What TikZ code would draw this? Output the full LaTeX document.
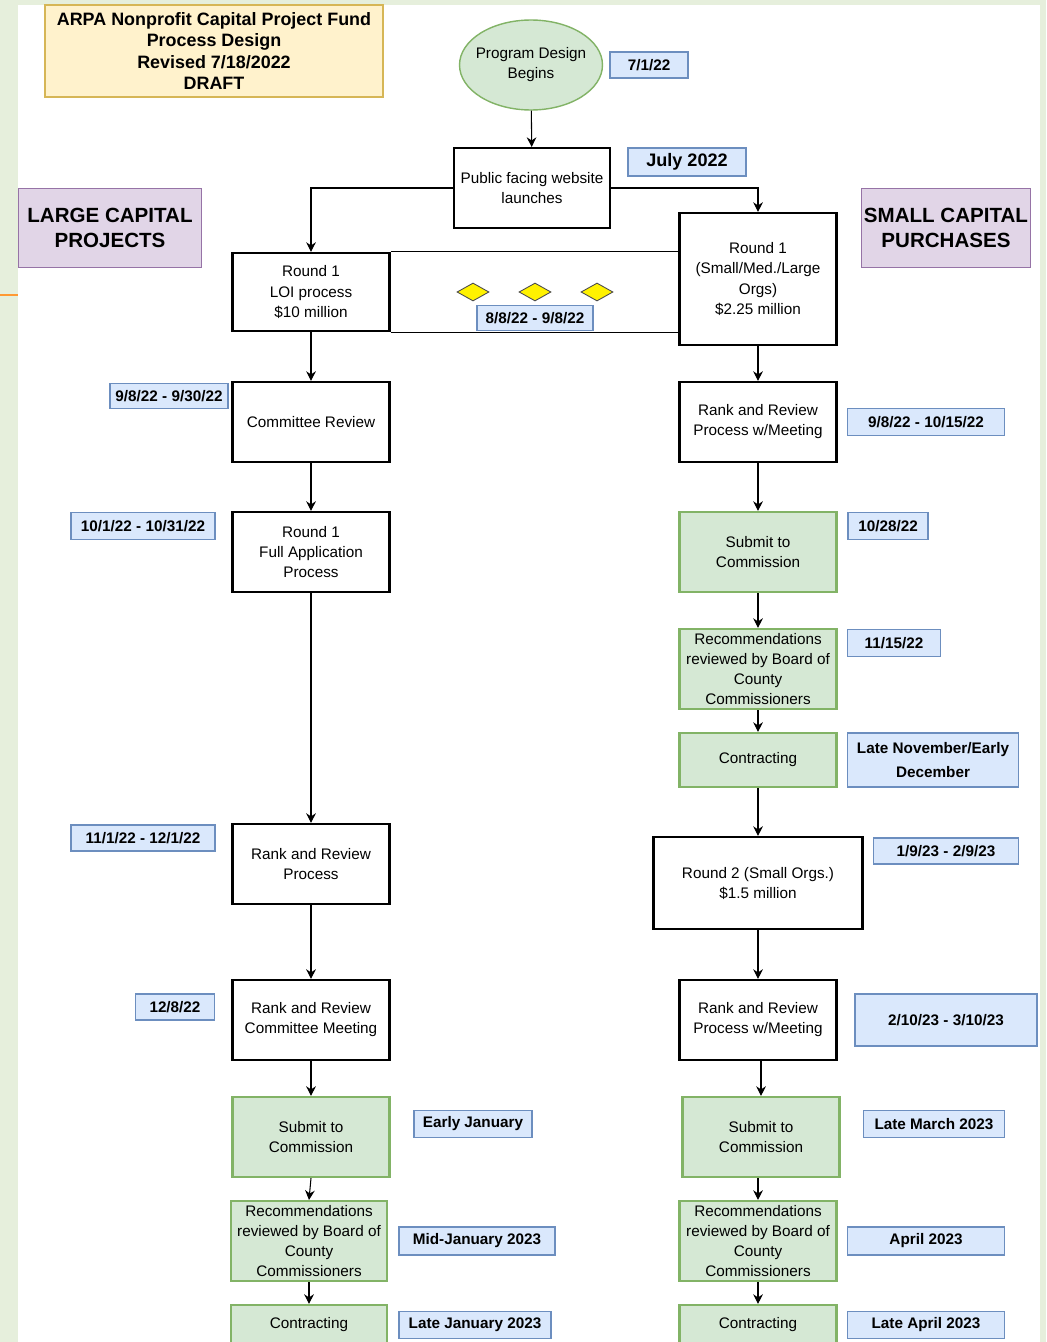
\documentclass[tikz,border=0pt]{standalone}
\usepackage{fontspec}
\setmainfont{Liberation Sans}
\usepackage{tikz}
\usetikzlibrary{arrows.meta,shapes.geometric,backgrounds}
\definecolor{pagegreen}{RGB}{230,239,220}
\definecolor{grnfill}{RGB}{213,232,212}
\definecolor{grnline}{RGB}{130,179,102}
\definecolor{blufill}{RGB}{218,232,252}
\definecolor{bluline}{RGB}{108,142,191}
\definecolor{ylwfill}{RGB}{255,242,204}
\definecolor{ylwline}{RGB}{214,182,86}
\definecolor{purfill}{RGB}{225,213,231}
\definecolor{purline}{RGB}{150,115,166}

\begin{document}
\begin{tikzpicture}[x=0.02cm,y=-0.02cm,
  box/.style={draw=black,line width=1.2pt,fill=white,align=center,inner sep=1pt,
    minimum width=3.14cm,minimum height=1.6cm,font=\fontsize{8.7}{11.4}\selectfont},
  greenbox/.style={box,draw=grnline,fill=grnfill},
  datebox/.style={draw=bluline,fill=blufill,line width=1pt,align=center,inner sep=0pt,
    minimum height=0.52cm,font=\bfseries\fontsize{8.7}{11}\selectfont},
  lanebox/.style={draw=purline,fill=purfill,line width=1pt,align=center,inner sep=0pt,
    minimum width=3.4cm,minimum height=1.58cm,font=\bfseries\fontsize{11.7}{14.7}\selectfont},
  diam/.style={diamond,draw=black!70,fill=yellow,line width=0.5pt,inner sep=0pt,
    minimum width=0.64cm,minimum height=0.36cm},
  flow/.style={-{Stealth[length=5.5pt,width=5.5pt]},line width=0.6pt}]
\useasboundingbox (0,0) rectangle (1046,1342);
\fill[pagegreen] (0,0) rectangle (1046,1342);
\fill[white] (18,5) rectangle (1040,1342);
\draw[orange!80,line width=0.8pt] (0,295) -- (18,295);

\node[draw=ylwline,fill=ylwfill,line width=0.8pt,align=center,minimum width=6.76cm,minimum height=1.84cm,
  font=\bfseries\fontsize{10.2}{12}\selectfont] (title) at (214,51)
  {ARPA Nonprofit Capital Project Fund\\Process Design\\Revised 7/18/2022\\DRAFT};
\node[lanebox,minimum width=3.66cm] (large) at (110,228) {LARGE CAPITAL\\PROJECTS};
\node[lanebox,minimum width=3.38cm] (small) at (946,228) {SMALL CAPITAL\\PURCHASES};

\node[ellipse,draw=grnline,fill=grnfill,line width=0.8pt,inner sep=0pt,minimum width=2.86cm,minimum height=1.8cm,
  label={[align=center,font=\fontsize{8.7}{11.4}\selectfont]center:Program Design\\Begins}] (prog) at (531,65) {};
\node[datebox,minimum width=1.56cm] (d0701) at (649,65) {7/1/22};
\node[box,minimum width=3.12cm] (pub) at (532,188) {Public facing website\\launches};
\node[datebox,minimum width=2.36cm,minimum height=0.56cm,font=\bfseries\fontsize{10.3}{12}\selectfont] (djuly) at (687,162) {July 2022};

\node[box,minimum height=1.56cm] (loi) at (311,292) {Round 1\\LOI process\\\$10 million};
\node[box,minimum height=2.64cm] (r1s) at (758,279) {Round 1\\(Small/Med./Large\\Orgs)\\\$2.25 million};
\node[diam] (dia1) at (473,292) {};
\node[diam] (dia2) at (535,292) {};
\node[diam] (dia3) at (597,292) {};
\node[datebox,minimum width=2.32cm,minimum height=0.5cm] (d0808) at (535,318) {8/8/22 - 9/8/22};

\node[box] (comm) at (311,422) {Committee Review};
\node[datebox,minimum width=2.36cm,minimum height=0.5cm] (d0908) at (169,396) {9/8/22 - 9/30/22};
\node[box] (full) at (311,552) {Round 1\\Full Application\\Process};
\node[datebox,minimum width=2.88cm,minimum height=0.54cm] (d1001) at (143,526) {10/1/22 - 10/31/22};
\node[box] (rrp) at (311,864) {Rank and Review\\Process};
\node[datebox,minimum width=2.88cm] (d1101) at (143,838) {11/1/22 - 12/1/22};
\node[box] (rrcm) at (311,1020) {Rank and Review\\Committee Meeting};
\node[datebox,minimum width=1.58cm] (d1208) at (175,1007) {12/8/22};
\node[greenbox] (subL) at (311,1137) {Submit to\\Commission};
\node[datebox,minimum width=2.36cm,minimum height=0.54cm] (dEJ) at (473,1124) {Early January};
\node[greenbox,minimum width=3.12cm] (recL) at (309,1241) {Recommendations\\reviewed by Board of\\County\\Commissioners};
\node[datebox,minimum width=3.12cm,minimum height=0.56cm] (dMJ) at (477,1241) {Mid-January 2023};
\node[greenbox,minimum width=3.12cm,minimum height=0.8cm] (conL) at (309,1325) {Contracting};
\node[datebox,minimum width=3.04cm,minimum height=0.54cm] (dLJ) at (475,1325) {Late January 2023};

\node[box] (rrm1) at (758,422) {Rank and Review\\Process w/Meeting};
\node[datebox,minimum width=3.14cm,minimum height=0.54cm] (d0908b) at (926,422) {9/8/22 - 10/15/22};
\node[greenbox] (subR1) at (758,552) {Submit to\\Commission};
\node[datebox,minimum width=1.6cm,minimum height=0.54cm] (d1028) at (888,526) {10/28/22};
\node[greenbox] (recR1) at (758,669) {Recommendations\\reviewed by Board of\\County\\Commissioners};
\node[datebox,minimum width=1.86cm,minimum height=0.54cm] (d1115) at (894,643) {11/15/22};
\node[greenbox,minimum height=1.08cm] (conR1) at (758,760) {Contracting};
\node[datebox,minimum width=3.42cm,minimum height=1.08cm] (dLN) at (933,760) {Late November/Early\\[3pt]December};
\node[box,minimum width=4.18cm,minimum height=1.84cm] (r2) at (758,883) {Round 2 (Small Orgs.)\\\$1.5 million};
\node[datebox,minimum width=2.9cm] (d0109) at (946,851) {1/9/23 - 2/9/23};
\node[box] (rrm2) at (758,1020) {Rank and Review\\Process w/Meeting};
\node[datebox,minimum width=3.64cm,minimum height=1.04cm] (d0210) at (946,1020) {2/10/23 - 3/10/23};
\node[greenbox] (subR2) at (761,1137) {Submit to\\Commission};
\node[datebox,minimum width=2.82cm,minimum height=0.54cm] (dLM) at (934,1124) {Late March 2023};
\node[greenbox] (recR2) at (758,1241) {Recommendations\\reviewed by Board of\\County\\Commissioners};
\node[datebox,minimum width=3.14cm,minimum height=0.56cm] (dApr) at (926,1241) {April 2023};
\node[greenbox,minimum height=0.8cm] (conR2) at (758,1325) {Contracting};
\node[datebox,minimum width=3.14cm,minimum height=0.54cm] (dLA) at (926,1325) {Late April 2023};

\draw[flow] (prog) -- (pub);
\draw[flow] (pub.west) -| (loi.north);
\draw[flow] (pub.east) -| (r1s.north);
\draw[line width=0.6pt] (loi.north east) -- (loi.north east -| r1s.west);
\draw[line width=0.6pt] (loi.south east) -- (loi.south east -| r1s.west);
\draw[flow] (loi) -- (comm);
\draw[flow] (comm) -- (full);
\draw[flow] (full) -- (rrp);
\draw[flow] (rrp) -- (rrcm);
\draw[flow] (rrcm) -- (subL);
\draw[flow] (subL.south) -- (recL.north);
\draw[flow] (recL) -- (conL);
\draw[flow] (r1s) -- (rrm1);
\draw[flow] (rrm1) -- (subR1);
\draw[flow] (subR1) -- (recR1);
\draw[flow] (recR1) -- (conR1);
\draw[flow] (conR1) -- (r2);
\draw[flow] (r2) -- (rrm2);
\draw[flow] (rrm2.south -| subR2) -- (subR2.north);
\draw[flow] (subR2.south -| recR2) -- (recR2.north);
\draw[flow] (recR2) -- (conR2);
\end{tikzpicture}
\end{document}
